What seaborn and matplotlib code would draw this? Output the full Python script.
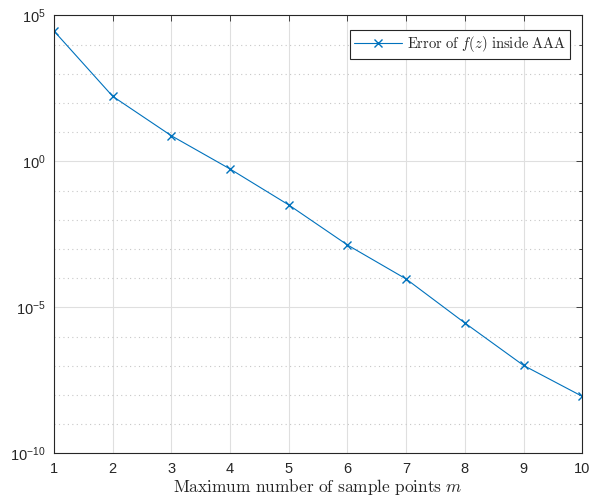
import numpy as np
import pandas as pd
import matplotlib
matplotlib.use("Agg")
import matplotlib.pyplot as plt
import matplotlib.ticker as mticker
import seaborn as sns

# Maximum number of sample points and the measured error
m_values = [1, 2, 3, 4, 5, 6, 7, 8, 9, 10]
error_values = [2.9e4, 1.68e2, 7.5, 5.45e-1, 3.2e-2, 1.36e-3, 9.3e-5, 2.9e-6, 1.02e-7, 8.9e-9]
x_ticks = [1, 2, 3, 4, 5, 6, 7, 8, 9, 10]
y_limits = (1e-10, 1e5)

sns.set_style("white")
plt.rcParams["font.family"] = ["Liberation Sans", "DejaVu Sans"]
plt.rcParams["mathtext.fontset"] = "custom"
plt.rcParams["mathtext.rm"] = "Liberation Sans"
plt.rcParams["mathtext.it"] = "Liberation Sans:italic"
plt.rcParams["mathtext.default"] = "regular"

line_color = "#0072BD"

df = pd.DataFrame({"m": m_values, "err": error_values})

fig = plt.figure(figsize=(5.92, 5.0), dpi=100)
ax = fig.add_axes([0.0912, 0.0934, 0.8924, 0.876])

sns.lineplot(data=df, x="m", y="err", ax=ax, color=line_color, marker="x",
             markersize=6, markeredgewidth=1.0, markeredgecolor=line_color,
             markerfacecolor=line_color, linewidth=0.8,
             label=r"$\mathrm{Error\ of\ }\mathit{f}\mathrm{(}\mathit{z}\mathrm{)\ inside\ AAA}$")

ax.set_yscale("log")
ax.set_xlim(1, 10)
ax.set_ylim(*y_limits)
ax.set_xticks(x_ticks)

lo_exp, hi_exp = int(np.log10(y_limits[0])), int(np.log10(y_limits[1]))
ax.yaxis.set_major_locator(mticker.FixedLocator(10.0 ** np.arange(lo_exp, hi_exp + 1, 5)))
ax.yaxis.set_minor_locator(mticker.FixedLocator(10.0 ** np.arange(lo_exp, hi_exp + 1)))
ax.yaxis.set_major_formatter(mticker.LogFormatterSciNotation(base=10))
ax.yaxis.set_minor_formatter(mticker.NullFormatter())

# Grid: solid light major lines, dotted minor decades
ax.grid(True, which="major", color="#dfdfdf", linewidth=0.8, linestyle="-")
ax.grid(True, which="minor", axis="y", color="#c8c8c8", linewidth=0.8, linestyle=(0, (1, 3)))
ax.set_axisbelow(True)

for side in ["top", "right", "bottom", "left"]:
    ax.spines[side].set_visible(True)
    ax.spines[side].set_color("#262626")
    ax.spines[side].set_linewidth(0.8)

ax.tick_params(which="both", direction="in", top=True, right=True,
               color="#262626", width=0.6)
ax.tick_params(which="major", length=4, labelsize=10.5, labelcolor="#262626", pad=6)
ax.tick_params(which="minor", length=2.5)

ax.set_ylabel("")
xl = ax.set_xlabel(r"$\mathrm{Maximum\ number\ of\ sample\ points\ }\mathit{m}$", fontsize=12.5,
                   color="#262626", labelpad=1)
xl.set_math_fontfamily("cm")

leg = ax.legend(loc="upper right", bbox_to_anchor=(0.977, 0.967), fontsize=10.5,
                frameon=True, fancybox=False, borderpad=0.3, handlelength=3.3,
                handletextpad=0.3, borderaxespad=0)
leg.get_frame().set_edgecolor("#262626")
leg.get_frame().set_linewidth(0.8)
leg.get_frame().set_alpha(1)
for t in leg.get_texts():
    t.set_math_fontfamily("cm")

fig.savefig("out.png", dpi=100)
